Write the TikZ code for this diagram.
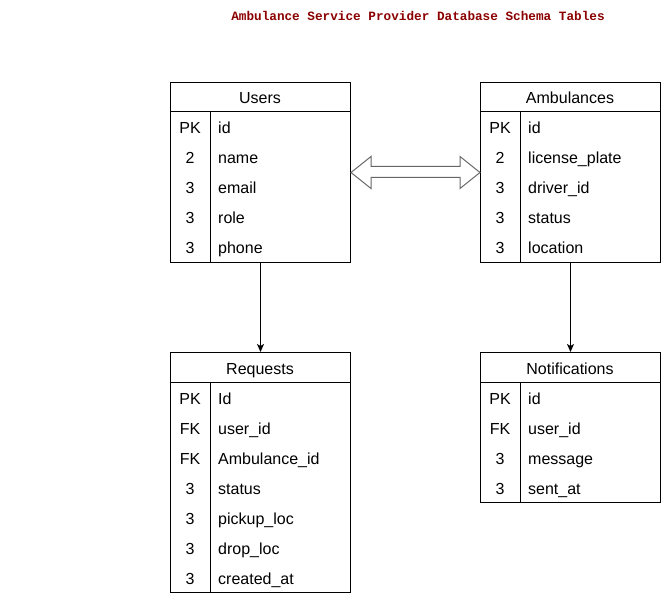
\documentclass[tikz,border=0pt]{standalone}
\usepackage{fontspec}
\setmainfont{Liberation Sans}
\newfontfamily\titlefont{Liberation Mono}
\usetikzlibrary{arrows.meta,calc}
\definecolor{titlered}{HTML}{8B0000}
\definecolor{dblgray}{HTML}{666666}
\tikzset{
  celltext/.style={inner sep=0pt, text height=14pt, text depth=0pt, font=\fontsize{16}{19}\selectfont},
  tblbody/.style={draw=black, line width=1pt, fill=white, inner sep=0pt, anchor=north west},
  hdrcell/.style={celltext, anchor=center},
  keycell/.style={celltext},
  fieldcell/.style={celltext, anchor=west},
  tblline/.style={line width=1pt, black},
  conn/.style={line width=1pt, black, -{Stealth[length=8pt,width=7pt,inset=2pt]}},
  dblarrow/.style={draw=dblgray, line width=1pt, fill=white, line join=miter},
  titletext/.style={font=\titlefont\bfseries\fontsize{12.7}{15}\selectfont, text=titlered, inner sep=0pt}
}
% #1 name, #2 left x, #3 top y, #4 title, #5 number of rows, #6 key/field list
\newcommand\mydbtable[6]{%
  \node[tblbody, minimum width=180pt, minimum height={30pt+30pt*#5}] (#1body) at (#2,#3) {};
  \node[hdrcell] (#1) at ({#2+90},{#3+15}) {#4};
  \draw[tblline] ({#2},{#3+30}) -- ({#2+180},{#3+30});
  \draw[tblline] ({#2+40},{#3+30}) -- ({#2+40},{#3+30+30*#5});
  \foreach [count=\i] \k/\f in {#6} {
    \node[keycell] (#1k\i) at ({#2+20},{#3+30+15+30*(\i-1)}) {\k};
    \node[fieldcell] (#1f\i) at ({#2+48},{#3+30+15+30*(\i-1)}) {\f};
  }%
}
\begin{document}
\begin{tikzpicture}[x=1pt,y=-1pt]
\useasboundingbox (0,0) rectangle (661,593);
\node[titletext] (title) at (418,16) {Ambulance Service Provider Database Schema Tables};

\mydbtable{users}{170}{82}{Users}{5}{PK/id,2/name,3/email,3/role,3/phone}
\mydbtable{amb}{480}{82}{Ambulances}{5}{PK/id,2/license\_plate,3/driver\_id,3/status,3/location}
\mydbtable{req}{170}{352}{Requests}{7}{PK/Id,FK/user\_id,FK/Ambulance\_id,3/status,3/pickup\_loc,3/drop\_loc,3/created\_at}
\mydbtable{notif}{480}{352}{Notifications}{4}{PK/id,FK/user\_id,3/message,3/sent\_at}

\draw[conn] (usersbody.south) -- (reqbody.north);
\draw[conn] (ambbody.south) -- (notifbody.north);

\coordinate (dl) at (usersbody.east);
\coordinate (dr) at (ambbody.west);
\draw[dblarrow] (dl)
  -- ($(dl)+(20,-16)$) -- ($(dl)+(20,-6)$)
  -- ($(dr)+(-20,-6)$) -- ($(dr)+(-20,-16)$)
  -- (dr)
  -- ($(dr)+(-20,16)$) -- ($(dr)+(-20,5)$)
  -- ($(dl)+(20,5)$) -- ($(dl)+(20,16)$) -- cycle;
\end{tikzpicture}
\end{document}
